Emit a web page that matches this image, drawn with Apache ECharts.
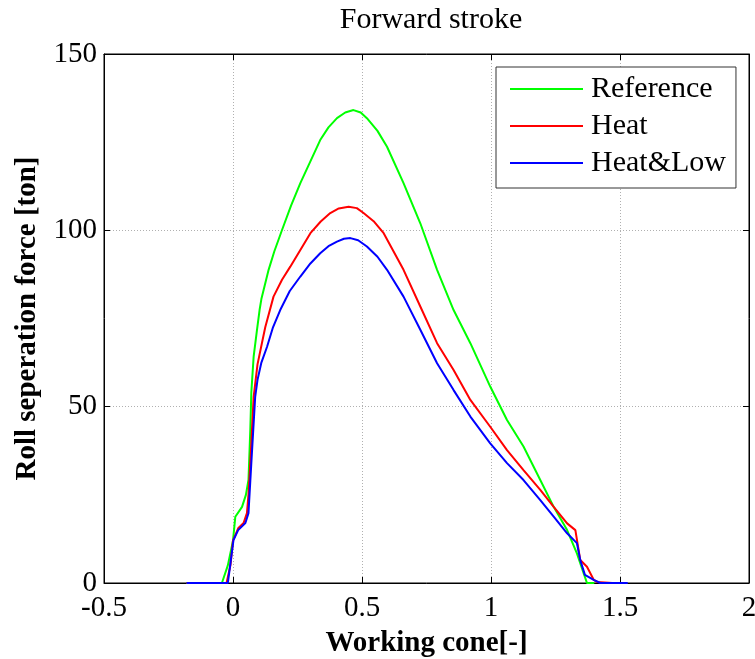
<!DOCTYPE html>
<html><head><meta charset="utf-8">
<script src="https://cdn.jsdelivr.net/npm/echarts@6/dist/echarts.min.js"></script>
<style>html,body{margin:0;padding:0;background:#fff}#c{width:755px;height:659px}</style>
</head><body><div id="c"></div>
<script>
var xTicks = [-0.5, 0, 0.5, 1, 1.5, 2];
var yTicks = [0, 50, 100, 150];
var seriesNames = ['Reference', 'Heat', 'Heat&Low'];

var refX = [-0.18, -0.043, -0.02, 0.0, 0.009, 0.035, 0.05, 0.06, 0.067, 0.071, 0.08, 0.093, 0.103, 0.11, 0.138, 0.16, 0.19, 0.225, 0.261, 0.338, 0.37, 0.403, 0.435, 0.467, 0.495, 0.519, 0.56, 0.597, 0.661, 0.726, 0.791, 0.855, 0.92, 0.997, 1.062, 1.126, 1.191, 1.243, 1.295, 1.333, 1.359, 1.372, 1.40];
var refY = [0, 0, 5, 12, 18.8, 21.6, 25, 29.2, 43.4, 54, 64.2, 71.8, 77.4, 80.5, 88.8, 94, 100.1, 107, 113.4, 125.6, 129.2, 131.8, 133.4, 134.1, 133.4, 131.8, 128.2, 123.7, 113.4, 102, 88.8, 77.4, 68, 55.7, 46.2, 38.7, 29.2, 21.6, 15, 8.4, 2.8, 0, 0];

var heatX = [-0.18, -0.025, -0.01, 0.0, 0.02, 0.041, 0.054, 0.06, 0.067, 0.08, 0.095, 0.112, 0.125, 0.157, 0.19, 0.222, 0.3, 0.34, 0.377, 0.41, 0.448, 0.48, 0.506, 0.545, 0.584, 0.661, 0.726, 0.791, 0.855, 0.92, 0.997, 1.062, 1.126, 1.191, 1.243, 1.295, 1.327, 1.346, 1.372, 1.398, 1.411, 1.47];
var heatY = [0, 0, 5, 12, 15.5, 17, 19.8, 25, 34, 52.8, 62, 68, 72.5, 81.2, 86, 89.7, 99.2, 102.5, 104.9, 106.2, 106.7, 106.3, 104.9, 102.6, 99.2, 88.8, 78.4, 68, 60.4, 51.9, 44.3, 37.7, 32, 26.4, 21.6, 16.9, 15, 6.5, 4.6, 0.9, 0.3, 0];

var lowX = [-0.18, -0.02, 0.002, 0.02, 0.048, 0.06, 0.071, 0.086, 0.095, 0.11, 0.132, 0.155, 0.183, 0.22, 0.261, 0.3, 0.338, 0.37, 0.403, 0.43, 0.455, 0.485, 0.519, 0.56, 0.597, 0.661, 0.726, 0.791, 0.855, 0.92, 0.997, 1.062, 1.126, 1.191, 1.243, 1.295, 1.333, 1.346, 1.364, 1.398, 1.424, 1.53];
var lowY = [0, 0, 12.2, 15, 17, 19.8, 34, 52.8, 57.6, 62.5, 67, 72.5, 77.4, 82.8, 86.9, 90.6, 93.5, 95.5, 96.8, 97.6, 97.8, 97.2, 95.4, 92.5, 88.8, 81.2, 71.8, 62.3, 54.7, 47.2, 39.6, 34, 29.2, 23.5, 18.8, 14.1, 11.3, 6.5, 2.3, 0.9, 0, 0];

var colors = ['#00ff00', '#ff0000', '#0000ff'];

function zip(xs, ys) { return xs.map(function (x, i) { return [x, ys[i]]; }); }

var FONT = '"Liberation Serif", "Times New Roman", serif';
var chart = echarts.init(document.getElementById('c'), null, { renderer: 'canvas' });

var xMin = xTicks[0], xMax = xTicks[xTicks.length - 1], xInt = xTicks[1] - xTicks[0];
var yMin = yTicks[0], yMax = yTicks[yTicks.length - 1], yInt = yTicks[1] - yTicks[0];

function lineSeries(name, data, color) {
  return {
    name: name, type: 'line', data: data, symbol: 'none', showSymbol: false,
    lineStyle: { color: color, width: 2 }, itemStyle: { color: color },
    animation: false, clip: true
  };
}

chart.setOption({
  animation: false,
  backgroundColor: '#fff',
  title: {
    text: 'Forward stroke', left: 426, top: 0, textAlign: 'center',
    textStyle: { fontFamily: FONT, fontSize: 30, fontWeight: 'normal', color: '#000' }
  },
  grid: { left: 104, right: 6, top: 54, bottom: 76, outerBoundsMode: 'none', containLabel: false, show: true, borderColor: '#000', borderWidth: 1, backgroundColor: '#fff' },
  legend: {
    orient: 'vertical', left: 496, top: 67,
    data: seriesNames.map(function (n, i) { return { name: n, icon: 'rect', itemStyle: { color: colors[i] } }; }),
    itemWidth: 73, itemHeight: 2, itemGap: 7,
    padding: [7, 10, 10, 14],
    borderColor: '#333', borderWidth: 1, backgroundColor: '#fff',
    textStyle: { fontFamily: FONT, fontSize: 30, color: '#000', lineHeight: 30, padding: [0, 0, 0, 3] }
  },
  xAxis: [{
    type: 'value', min: xMin, max: xMax, interval: xInt,
    name: 'Working cone[-]', nameLocation: 'middle', nameGap: 46,
    nameTextStyle: { fontFamily: FONT, fontSize: 29, fontWeight: 'bold', color: '#000' },
    axisLine: { show: true, onZero: false, lineStyle: { color: '#000', width: 1 } },
    axisTick: { show: true, inside: true, length: 6, lineStyle: { color: '#000' } },
    axisLabel: { fontFamily: FONT, fontSize: 29, color: '#000', margin: 11 },
    splitLine: { show: true, lineStyle: { color: '#b0b0b0', type: [1, 2], width: 1 } }
  }, {
    type: 'value', position: 'top', min: xMin, max: xMax, interval: xInt,
    axisLine: { show: true, onZero: false, lineStyle: { color: '#000' } },
    axisTick: { show: true, inside: true, length: 6, lineStyle: { color: '#000' } },
    axisLabel: { show: false }, splitLine: { show: false }
  }],
  yAxis: [{
    type: 'value', min: yMin, max: yMax, interval: yInt,
    name: 'Roll seperation force [ton]', nameLocation: 'middle', nameGap: 62,
    nameTextStyle: { fontFamily: FONT, fontSize: 29, fontWeight: 'bold', color: '#000' },
    axisLine: { show: true, onZero: false, lineStyle: { color: '#000', width: 1 } },
    axisTick: { show: true, inside: true, length: 6, lineStyle: { color: '#000' } },
    axisLabel: { fontFamily: FONT, fontSize: 29, color: '#000', margin: 7 },
    splitLine: { show: true, lineStyle: { color: '#b0b0b0', type: [1, 2], width: 1 } }
  }, {
    type: 'value', position: 'right', min: yMin, max: yMax, interval: yInt,
    axisLine: { show: true, onZero: false, lineStyle: { color: '#000' } },
    axisTick: { show: true, inside: true, length: 6, lineStyle: { color: '#000' } },
    axisLabel: { show: false }, splitLine: { show: false }
  }],
  series: [
    lineSeries(seriesNames[0], zip(refX, refY), colors[0]),
    lineSeries(seriesNames[1], zip(heatX, heatY), colors[1]),
    lineSeries(seriesNames[2], zip(lowX, lowY), colors[2])
  ]
});
</script>
</body></html>
